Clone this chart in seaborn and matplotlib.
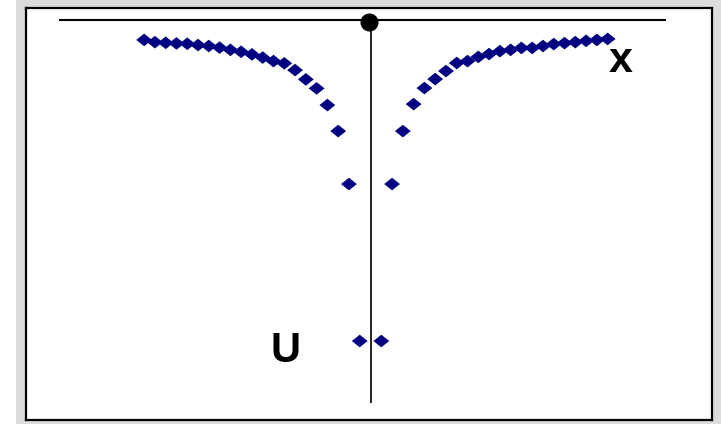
import numpy as np
import pandas as pd
import matplotlib
matplotlib.use("Agg")
import matplotlib.pyplot as plt
from matplotlib.path import Path
from matplotlib.patches import Rectangle
import seaborn as sns

# Positions along the line (in units of the grid step) and potential values
x_left = [-21, -20, -19, -18, -17, -16, -15, -14, -13, -12, -11,
          -10, -9, -8, -7, -6, -5, -4, -3, -2, -1]
u_left = [-0.062, -0.069, -0.071, -0.073, -0.074, -0.078, -0.081, -0.086,
          -0.093, -0.099, -0.107, -0.117, -0.128, -0.135, -0.156, -0.185,
          -0.213, -0.265, -0.346, -0.511, -1.0]
x_right = [1, 2, 3, 4, 5, 6, 7, 8, 9, 10, 11,
           12, 13, 14, 15, 16, 17, 18, 19, 20, 21, 22]
u_right = [-1.0, -0.511, -0.346, -0.262, -0.212, -0.184, -0.159, -0.134,
           -0.128, -0.115, -0.106, -0.097, -0.093, -0.087, -0.087, -0.081,
           -0.075, -0.072, -0.069, -0.065, -0.062, -0.059]

axis_label_x = "x"
axis_label_u = "U"

df = pd.DataFrame({"x": x_left + x_right, "U": u_left + u_right})

sns.set_theme(style="white")
plt.rcParams["font.family"] = ["Liberation Sans", "DejaVu Sans"]

fig = plt.figure(figsize=(7.21, 4.24), dpi=100, facecolor="#dcdcdc")
# white strip at the far left
fig.patches.append(Rectangle((0, 0), 16 / 721, 1, transform=fig.transFigure,
                             facecolor="white", edgecolor="none", zorder=0))

ax = fig.add_axes([26 / 721, 4 / 424, 686 / 721, 412 / 424])
ax.set_facecolor("white")

# wide diamond marker
diamond = Path([(-1.0, 0.0), (0.0, 0.8), (1.0, 0.0), (0.0, -0.8), (-1.0, 0.0)],
               [Path.MOVETO, Path.LINETO, Path.LINETO, Path.LINETO, Path.CLOSEPOLY])

ax.set_xlim(-31.96, 31.68)
ax.set_ylim(-1.246, 0.0374)

# coordinate axes
ax.plot([-28.9, 27.4], [0, 0], color="black", lw=1.5, solid_capstyle="butt", zorder=2)
ax.plot([0.05, 0.05], [0, -1.193], color="black", lw=1.2, solid_capstyle="butt", zorder=2)
ax.plot([-0.15], [-0.006], marker="o", ms=12, color="black", zorder=4)

sns.scatterplot(data=df, x="x", y="U", marker=diamond, s=130, color="#000080",
                edgecolor="none", ax=ax, zorder=3, legend=False)

ax.text(23.2, -0.128, axis_label_x, fontsize=31, fontweight="bold",
        ha="center", va="center", color="black")
ax.text(-7.84, -1.03, axis_label_u, fontsize=30, fontweight="bold",
        ha="center", va="center", color="black")

ax.set_xlabel("")
ax.set_ylabel("")
ax.set_xticks([])
ax.set_yticks([])
for side in ["left", "right", "top", "bottom"]:
    ax.spines[side].set_visible(True)
    ax.spines[side].set_color("black")
    ax.spines[side].set_linewidth(1.6)

fig.savefig("out.png", dpi=100, facecolor=fig.get_facecolor())
